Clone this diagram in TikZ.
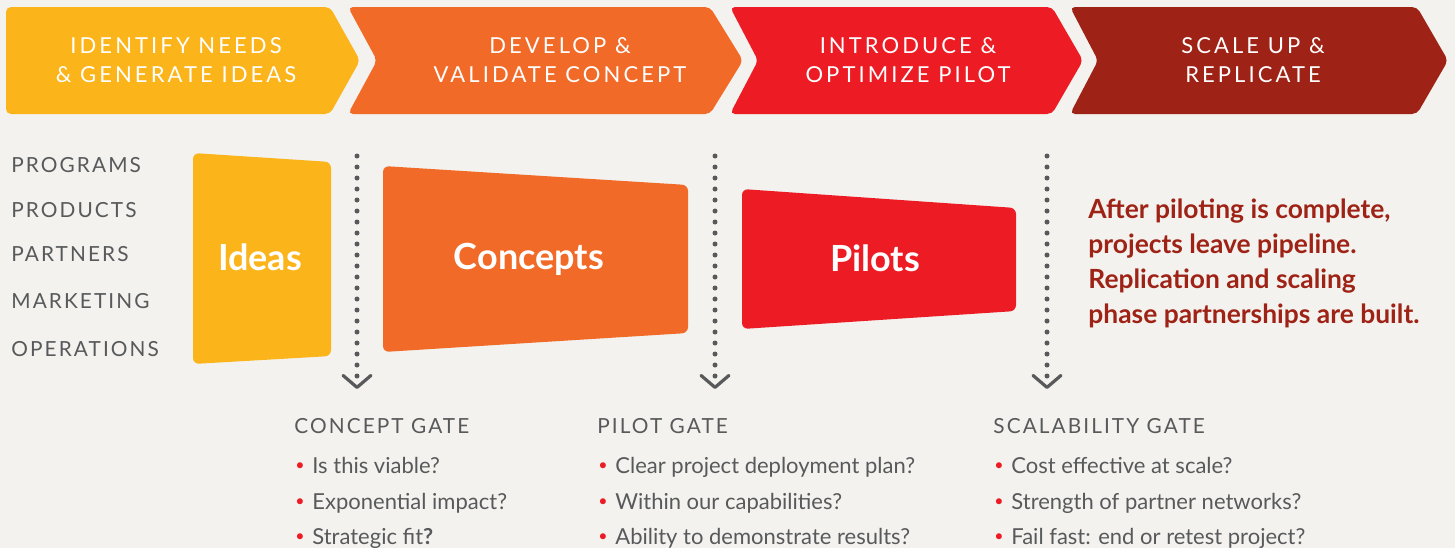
\documentclass[tikz,border=0pt]{standalone}
\usepackage{fontspec}
\setmainfont{Lato}
\newfontfamily\stagefont[LetterSpace=14]{Lato}
\newfontfamily\capsfont[LetterSpace=10]{Lato}
\usetikzlibrary{arrows.meta}

\definecolor{pageback}{HTML}{F3F2EE}
\definecolor{ideasyellow}{HTML}{FBB419}
\definecolor{conceptorange}{HTML}{F26A27}
\definecolor{pilotred}{HTML}{ED1C24}
\definecolor{scaledark}{HTML}{9E2316}
\definecolor{textgray}{HTML}{58595B}

\newcommand{\gatebullet}{\raisebox{0.12em}{\textcolor{pilotred}{\fontsize{8}{8}\selectfont •}}\hspace{0.35em}}

\begin{document}
\begin{tikzpicture}[x=0.5pt, y=-0.5pt,
    stage/.style={rounded corners=2.5pt},
    stagetext/.style={text=white, align=center, font=\stagefont\fontsize{11}{14.5}\selectfont},
    block/.style={rounded corners=3pt},
    blocktext/.style={text=white, anchor=base, font=\bfseries\fontsize{18}{20}\selectfont},
    area/.style={text=textgray, anchor=base west, inner sep=0pt, font=\capsfont\fontsize{10.4}{12}\selectfont},
    gatehead/.style={text=textgray, anchor=base west, inner sep=0pt, font=\capsfont\fontsize{10.4}{12}\selectfont},
    gatelist/.style={text=textgray, anchor=north west, inner sep=0pt, align=left, font=\fontsize{11}{17.75}\selectfont},
    note/.style={text=scaledark, anchor=north west, inner sep=0pt, align=left, font=\bfseries\fontsize{13.2}{17.5}\selectfont},
    gate/.style={draw=textgray, line width=2.5pt, line cap=round, dash pattern=on 0pt off 5.5pt,
      -{Straight Barb[length=6pt, width=14pt, line width=1.6pt, round]}},
  ]
  \fill[pageback] (0,0) rectangle (1455,548);
  \useasboundingbox (0,0) rectangle (1455,548);

  % phases along the top
  \fill[stage, ideasyellow] (6,7) -- (330,7) -- (360,60.5) -- (330,114) -- (6,114) -- cycle;
  \fill[stage, conceptorange] (348,7) -- (710,7) -- (743,60.5) -- (710,114) -- (348,114) -- (377,60.5) -- cycle;
  \fill[stage, pilotred] (730,7) -- (1052,7) -- (1083,60.5) -- (1052,114) -- (730,114) -- (758,60.5) -- cycle;
  \fill[stage, scaledark] (1070,7) -- (1417,7) -- (1448,60.5) -- (1417,114) -- (1070,114) -- (1098,60.5) -- cycle;

  \node[stagetext] (identify) at (176,60) {IDENTIFY NEEDS\\\& GENERATE IDEAS};
  \node[stagetext] (develop) at (560,60) {DEVELOP \&\\VALIDATE CONCEPT};
  \node[stagetext] (introduce) at (908,60) {INTRODUCE \&\\OPTIMIZE PILOT};
  \node[stagetext] (scaleup) at (1253,60) {SCALE UP \&\\REPLICATE};

  % what goes into the pipeline
  \node[area] (programs) at (11,172) {PROGRAMS};
  \node[area] (products) at (11,217) {PRODUCTS};
  \node[area] (partners) at (11,261) {PARTNERS};
  \node[area] (marketing) at (11,308) {MARKETING};
  \node[area] (operations) at (11,356) {OPERATIONS};

  % the funnel blocks
  \fill[block, ideasyellow] (193,153) -- (331,162) -- (331,356) -- (193,364) -- cycle;
  \fill[block, conceptorange] (383,166) -- (688,185) -- (688,333) -- (383,352) -- cycle;
  \fill[block, pilotred] (742,189) -- (1016,208) -- (1016,311) -- (742,329) -- cycle;

  \node[blocktext] (ideas) at (260,270) {Ideas};
  \node[blocktext] (concepts) at (529,269) {Concepts};
  \node[blocktext] (pilots) at (875,271) {Pilots};

  % gates
  \coordinate (conceptstart) at (357,156);
  \coordinate (conceptend) at (357,389);
  \coordinate (pilotstart) at (715,156);
  \coordinate (pilotend) at (715,389);
  \coordinate (scalestart) at (1047,156);
  \coordinate (scaleend) at (1047,389);

  \draw[gate] (conceptstart) -- (conceptend);
  \draw[gate] (pilotstart) -- (pilotend);
  \draw[gate] (scalestart) -- (scaleend);

  \node[gatehead] (conceptgate) at (294,433) {CONCEPT GATE};
  \node[gatehead] (pilotgate) at (597,433) {PILOT GATE};
  \node[gatehead] (scalegate) at (993,433) {SCALABILITY GATE};

  \node[gatelist] (conceptlist) at (295,457)
    {\gatebullet Is this viable?\\\gatebullet Exponential impact?\\\gatebullet Strategic fit\textbf{?}};
  \node[gatelist] (pilotlist) at (598,457)
    {\gatebullet Clear project deployment plan?\\\gatebullet Within our capabilities?\\\gatebullet Ability to demonstrate results?};
  \node[gatelist] (scalelist) at (994,457)
    {\gatebullet Cost effective at scale?\\\gatebullet Strength of partner networks?\\\gatebullet Fail fast: end or retest project?};

  \node[note] (afterpilot) at (1088,198)
    {After piloting is complete,\\projects leave pipeline.\\Replication and scaling\\phase partnerships are built.};
\end{tikzpicture}
\end{document}
